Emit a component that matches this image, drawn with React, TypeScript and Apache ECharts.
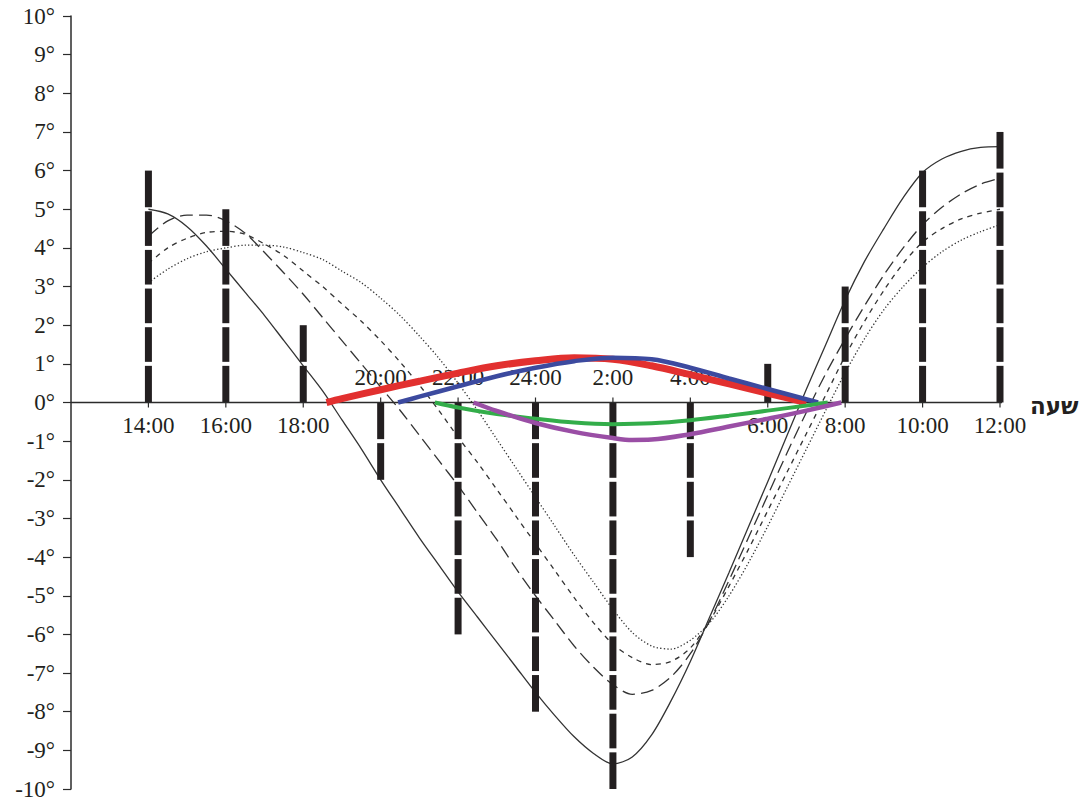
import React, { useEffect, useRef } from "react";
import * as echarts from "echarts";

// ---- data ----
const hours = [
  14, 14.5, 15, 15.5, 16, 16.5, 17, 17.5, 18, 18.5, 19, 19.5, 20, 20.5, 21, 21.5,
  22, 22.5, 23, 23.5, 24, 24.5, 25, 25.5, 26, 26.5, 27, 27.5, 28, 28.5, 29, 29.5,
  30, 30.5, 31, 31.5, 32, 32.5, 33, 33.5, 34, 34.5, 35, 35.5, 36,
];
const solidVals = [
  5.0, 4.88, 4.55, 4.05, 3.45, 2.85, 2.25, 1.6, 0.95, 0.3, -0.45, -1.2, -2.0, -2.75, -3.5, -4.2,
  -4.9, -5.55, -6.2, -6.85, -7.5, -8.1, -8.65, -9.08, -9.35, -9.17, -8.6, -7.72, -6.7, -5.55, -4.4, -3.22,
  -2.05, -0.85, 0.35, 1.5, 2.65, 3.65, 4.5, 5.3, 5.95, 6.3, 6.5, 6.6, 6.62,
];
const longDashVals = [
  4.3, 4.7, 4.85, 4.85, 4.7, 4.38, 3.88, 3.35, 2.8, 2.2, 1.6, 1.0, 0.4, -0.2, -0.85, -1.5,
  -2.15, -2.85, -3.55, -4.3, -5.0, -5.65, -6.3, -6.85, -7.3, -7.55, -7.45, -7.1, -6.5, -5.65, -4.6, -3.5,
  -2.4, -1.3, -0.25, 0.75, 1.65, 2.5, 3.3, 4.0, 4.6, 5.05, 5.4, 5.65, 5.8,
];
const shortDashVals = [
  3.6, 4.0, 4.25, 4.4, 4.43, 4.35, 4.1, 3.8, 3.4, 3.0, 2.55, 2.1, 1.6, 1.05, 0.45, -0.2,
  -0.9, -1.55, -2.25, -2.95, -3.65, -4.35, -5.05, -5.7, -6.25, -6.6, -6.78, -6.7, -6.35, -5.65, -4.75, -3.8,
  -2.8, -1.8, -0.8, 0.2, 1.2, 2.1, 2.9, 3.6, 4.15, 4.5, 4.75, 4.9, 5.0,
];
const dottedVals = [
  3.1, 3.45, 3.72, 3.9, 4.0, 4.07, 4.07, 4.02, 3.88, 3.7, 3.4, 3.1, 2.7, 2.25, 1.72, 1.15,
  0.5, -0.2, -0.95, -1.7, -2.45, -3.2, -3.95, -4.65, -5.35, -5.95, -6.3, -6.38, -6.15, -5.7, -5.0, -4.15,
  -3.2, -2.2, -1.2, -0.2, 0.77, 1.65, 2.4, 3.0, 3.5, 3.9, 4.2, 4.42, 4.6,
];

const redHours = [18.6, 19, 20, 21, 22, 23, 24, 25, 26, 27, 28, 29, 30, 31];
const redVals = [0, 0.1, 0.33, 0.55, 0.76, 0.95, 1.08, 1.16, 1.12, 0.95, 0.72, 0.48, 0.24, 0];
const blueHours = [20.45, 21, 22, 23, 24, 25, 26, 27, 28, 29, 30, 31.3];
const blueVals = [0, 0.15, 0.42, 0.68, 0.9, 1.07, 1.16, 1.12, 0.9, 0.62, 0.35, 0];
const greenHours = [21.4, 22, 23, 24, 25, 26, 27, 28, 29, 30, 31, 31.55];
const greenVals = [0, -0.13, -0.3, -0.42, -0.52, -0.56, -0.54, -0.46, -0.34, -0.21, -0.08, 0];
const purpleHours = [22.4, 23, 24, 25, 26, 26.5, 27, 28, 29, 30, 31, 31.9];
const purpleVals = [0, -0.22, -0.53, -0.76, -0.92, -0.97, -0.96, -0.82, -0.62, -0.42, -0.21, 0];

const barHours = [14, 16, 18, 20, 22, 24, 26, 28, 30, 32, 34, 36];
const barValues = [6, 5, 2, -2, -6, -8, -10, -4, 1, 3, 6, 7];

const xTickHours = [14, 16, 18, 20, 22, 24, 26, 28, 30, 32, 34, 36];
const xTickLabels = ["14:00", "16:00", "18:00", "20:00", "22:00", "24:00", "2:00", "4:00", "6:00", "8:00", "10:00", "12:00"];
const xLabelAbove = [false, false, false, true, true, true, true, true, false, false, false, false];
const xAxisName = "שעה";
const xRange = [12, 36];

const FONT = "'Liberation Serif', 'Times New Roman', serif";
const TXT = "#231f20";
const AX = "#2b2b2b";

const pairs = (xs: number[], ys: number[]) => xs.map((x, i) => [x, ys[i]]);

export default function App() {
  const ref = useRef<HTMLDivElement>(null);
  useEffect(() => {
    if (!ref.current) return;
    const chart = echarts.init(ref.current, undefined, { renderer: "svg" });

    const grayLine = (name: string, vals: number[], type: any) => ({
      name,
      type: "line",
      data: pairs(hours, vals),
      showSymbol: false,
      smooth: 0.3,
      z: 2,
      lineStyle: { color: "#333333", width: 1.3, type },
    });
    const colorLine = (name: string, xs: number[], ys: number[], color: string, width: number) => ({
      name,
      type: "line",
      data: pairs(xs, ys),
      showSymbol: false,
      smooth: 0.35,
      z: 6,
      lineStyle: { color, width, cap: "butt" },
    });

    const option: any = {
      animation: false,
      grid: { left: 71, right: 85, top: 16, bottom: 11, containLabel: false, outerBoundsMode: "none" },
      xAxis: {
        type: "value",
        min: xRange[0],
        max: xRange[1],
        interval: 2,
        show: false,
        splitLine: { show: false },
      },
      yAxis: {
        type: "value",
        min: -10,
        max: 10,
        interval: 1,
        axisLine: { show: true, onZero: false, lineStyle: { color: AX, width: 1.5 } },
        axisTick: { show: true, length: 8, lineStyle: { color: AX, width: 1.2 } },
        axisLabel: {
          margin: 16,
          fontFamily: FONT,
          fontSize: 23,
          color: TXT,
          formatter: (v: number) => `${v}°`,
        },
        splitLine: { show: false },
      },
      series: [
        grayLine("solid", solidVals, "solid"),
        grayLine("longdash", longDashVals, [13, 6]),
        grayLine("shortdash", shortDashVals, [5, 5]),
        grayLine("dotted", dottedVals, [1.3, 2.2]),
        {
          name: "xAxisLine",
          type: "custom",
          z: 4,
          data: [[xRange[0], xRange[1]]],
          renderItem: (params: any, api: any) => {
            const a = api.coord([api.value(0), 0]);
            const b = api.coord([api.value(1), 0]);
            return {
              type: "group",
              children: [
                {
                  type: "line",
                  shape: { x1: a[0], y1: a[1], x2: b[0] + 2, y2: b[1] },
                  style: { stroke: AX, lineWidth: 1.5 },
                },
                {
                  type: "text",
                  x: b[0] + 30,
                  y: b[1] + 3,
                  style: {
                    text: xAxisName,
                    fill: TXT,
                    font: `bold 23px 'DejaVu Sans', 'Liberation Sans', sans-serif`,
                    align: "left",
                    verticalAlign: "middle",
                  },
                },
              ],
            };
          },
        },
        {
          name: "bars",
          type: "custom",
          z: 3,
          data: pairs(barHours, barValues),
          renderItem: (params: any, api: any) => {
            const x = api.value(0);
            const v = api.value(1);
            const sign = v >= 0 ? 1 : -1;
            const n = Math.abs(v);
            const px = api.coord([x, 0])[0];
            const gap = 2;
            const children: any[] = [];
            for (let k = 0; k < n; k++) {
              const a = api.coord([x, sign * k])[1];
              const b = api.coord([x, sign * (k + 1)])[1];
              let y1 = Math.min(a, b);
              let y2 = Math.max(a, b);
              if (k > 0) {
                if (sign > 0) y2 -= gap;
                else y1 += gap;
              }
              if (k < n - 1) {
                if (sign > 0) y1 += gap;
                else y2 -= gap;
              }
              children.push({
                type: "rect",
                shape: { x: px - 3.5, y: y1, width: 7, height: y2 - y1 },
                style: { fill: "#231f20" },
              });
            }
            return { type: "group", children };
          },
        },
        colorLine("red", redHours, redVals, "#e2302f", 7),
        colorLine("blue", blueHours, blueVals, "#3c4a9f", 4.5),
        colorLine("green", greenHours, greenVals, "#33ad4a", 4),
        colorLine("purple", purpleHours, purpleVals, "#9a4ea5", 4.5),
        {
          name: "xTicks",
          type: "custom",
          z: 5,
          data: xTickHours.map((h) => [h, 0]),
          renderItem: (params: any, api: any) => {
            const i = params.dataIndex;
            const p = api.coord([api.value(0), 0]);
            const up = xLabelAbove[i];
            return {
              type: "group",
              children: [
                {
                  type: "line",
                  shape: { x1: p[0], y1: p[1], x2: p[0], y2: up ? p[1] - 5 : p[1] + 5 },
                  style: { stroke: AX, lineWidth: 1.2 },
                },
                {
                  type: "text",
                  x: p[0],
                  y: up ? p[1] - 25 : p[1] + 23,
                  style: {
                    text: xTickLabels[i],
                    fill: TXT,
                    font: `23px ${FONT}`,
                    align: "center",
                    verticalAlign: "middle",
                  },
                },
              ],
            };
          },
        },
      ],
    };
    chart.setOption(option);
    return () => chart.dispose();
  }, []);
  return (
    <div
      ref={ref}
      style={{ position: "fixed", left: 0, top: 0, width: 1085, height: 800, background: "#fff" }}
    />
  );
}
